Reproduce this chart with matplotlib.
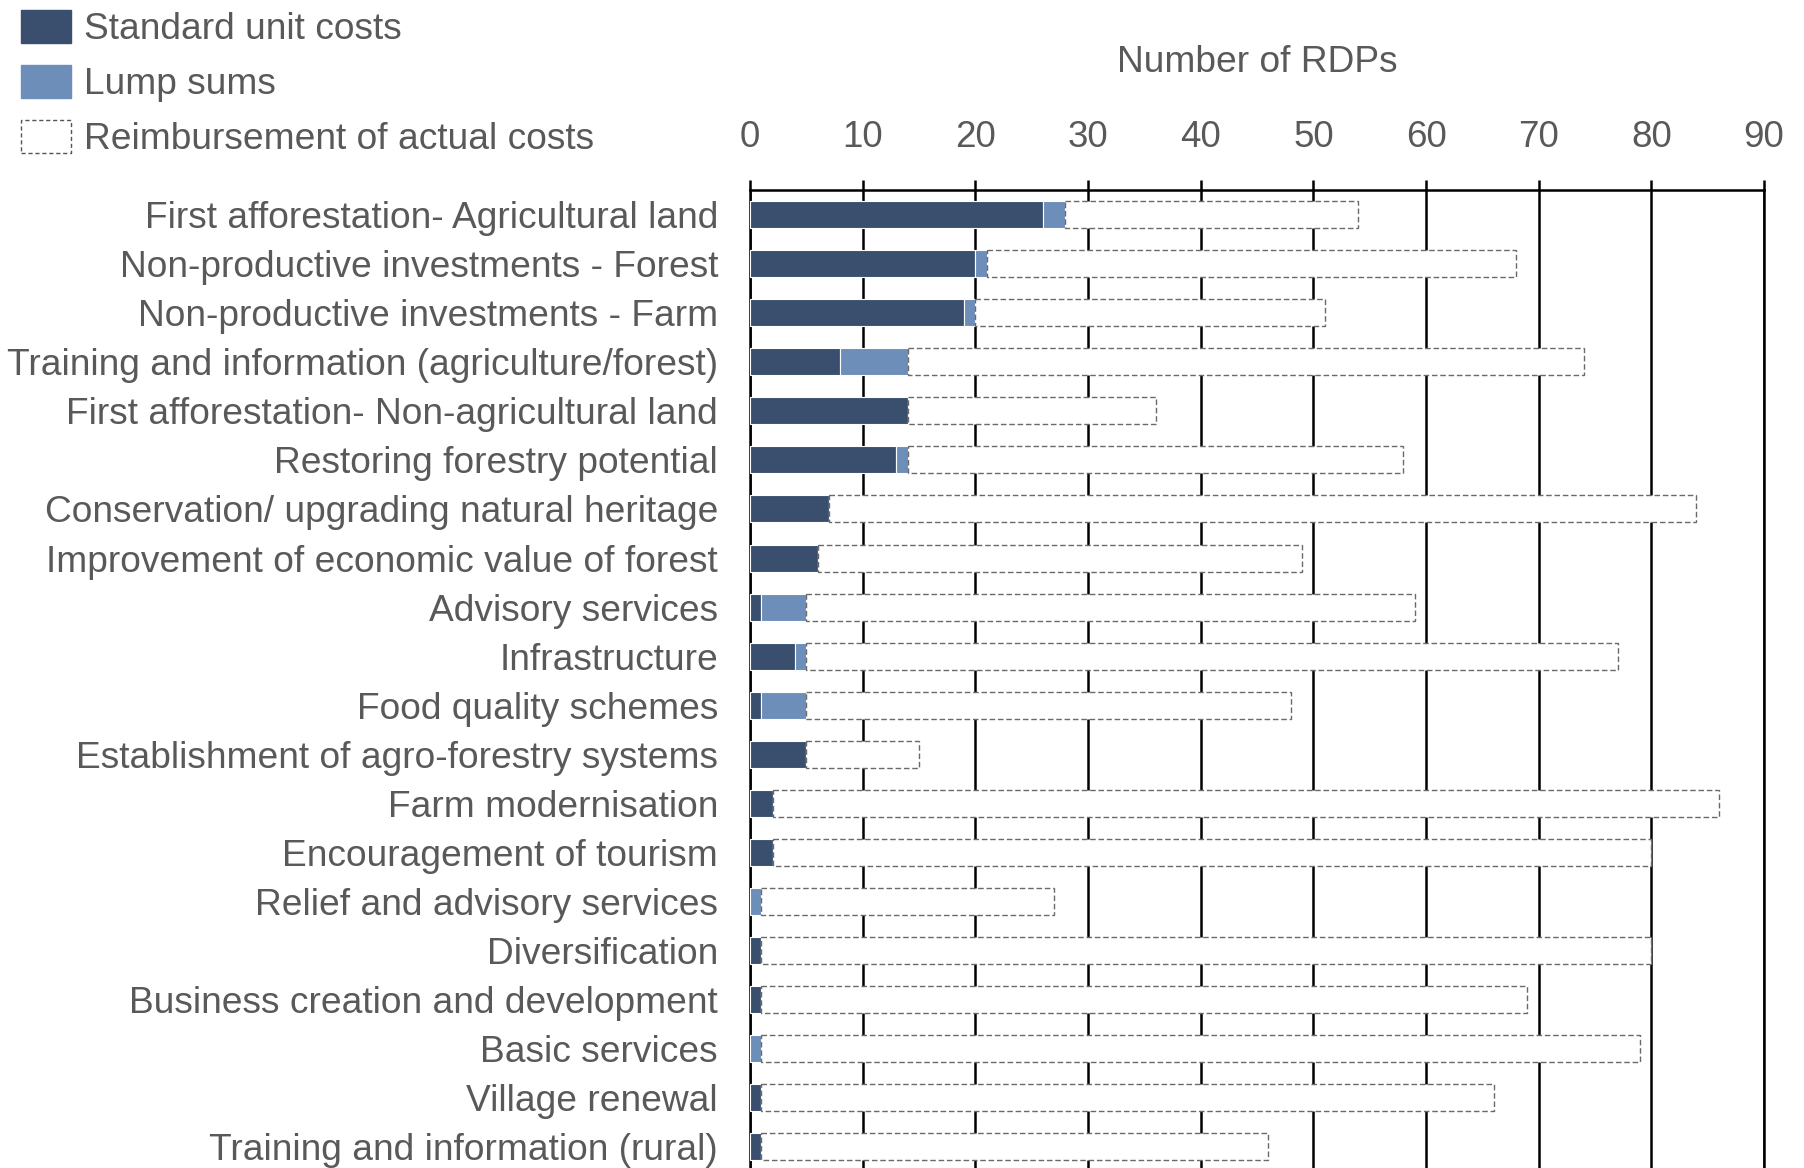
import matplotlib.pyplot as plt
from matplotlib.patches import Patch

measures = [
    "First afforestation- Agricultural land",
    "Non-productive investments - Forest",
    "Non-productive investments - Farm",
    "Training and information (agriculture/forest)",
    "First afforestation- Non-agricultural land",
    "Restoring forestry potential",
    "Conservation/ upgrading natural heritage",
    "Improvement of economic value of forest",
    "Advisory services",
    "Infrastructure",
    "Food quality schemes",
    "Establishment of agro-forestry systems",
    "Farm modernisation",
    "Encouragement of tourism",
    "Relief and advisory services",
    "Diversification",
    "Business creation and development",
    "Basic services",
    "Village renewal",
    "Training and information (rural)",
]

# number of RDPs per cost option
standard_unit_costs = [26, 20, 19, 8, 14, 13, 7, 6, 1, 4, 1, 5, 2, 2, 0, 1, 1, 0, 1, 1]
lump_sums = [2, 1, 1, 6, 0, 1, 0, 0, 4, 1, 4, 0, 0, 0, 1, 0, 0, 1, 0, 0]
actual_costs = [26, 47, 31, 60, 22, 44, 77, 43, 54, 72, 43, 10, 84, 78, 26, 79, 68, 78, 65, 45]

DARK = "#394F6D"
LIGHT = "#6E8EBA"
TEXT = "#595959"
DASH = "#6A6A6A"
FONT = "Liberation Sans"
FS = 26.75

plt.rcParams["font.family"] = FONT

fig = plt.figure(figsize=(18.04, 11.68), dpi=100)
ax = fig.add_axes([750 / 1804, 0, 1014 / 1804, 978 / 1168])

y = list(range(len(measures)))
h = 0.55
left_light = standard_unit_costs
left_actual = [s + l for s, l in zip(standard_unit_costs, lump_sums)]

ax.barh(y, standard_unit_costs, height=h, color=DARK, edgecolor="white", linewidth=0.8, zorder=3)
ax.barh(y, lump_sums, left=left_light, height=h, color=LIGHT, edgecolor="white", linewidth=0.8, zorder=3)
ax.barh(y, actual_costs, left=left_actual, height=h, facecolor="white", edgecolor=DASH,
        linewidth=1.0, linestyle=(0, (4, 2)), zorder=3)

ax.set_xlim(0, 90)
ax.set_ylim(19.43, -0.5)
ax.set_xticks(range(0, 91, 10))
ax.set_yticks(y)
ax.set_yticklabels(measures)

ax.xaxis.tick_top()
ax.xaxis.set_label_position("top")
ax.set_xlabel("Number of RDPs", fontsize=FS, color=TEXT, labelpad=35)
ax.tick_params(axis="x", direction="out", length=7, width=1.8, color="black",
               labelsize=26.5, labelcolor=TEXT, pad=18)
ax.tick_params(axis="y", length=0, labelsize=FS, labelcolor=TEXT, pad=23)

ax.grid(axis="x", color="black", linewidth=1.8)
ax.set_axisbelow(True)
for side in ["top", "left", "right"]:
    ax.spines[side].set_color("black")
    ax.spines[side].set_linewidth(1.8)
ax.spines["bottom"].set_visible(False)

handles = [
    Patch(facecolor=DARK, edgecolor=DARK),
    Patch(facecolor=LIGHT, edgecolor=LIGHT),
    Patch(facecolor="white", edgecolor="#555555", linewidth=1.0, linestyle=(0, (3, 2))),
]
fig.legend(handles, ["Standard unit costs", "Lump sums", "Reimbursement of actual costs"],
           loc="upper left", bbox_to_anchor=(21 / 1804, 1 - 10 / 1168), frameon=False,
           borderpad=0, borderaxespad=0, fontsize=FS, labelcolor=TEXT,
           handlelength=1.35, handleheight=1.0, handletextpad=0.35, labelspacing=0.47)

fig.savefig("out.png", dpi=100)
